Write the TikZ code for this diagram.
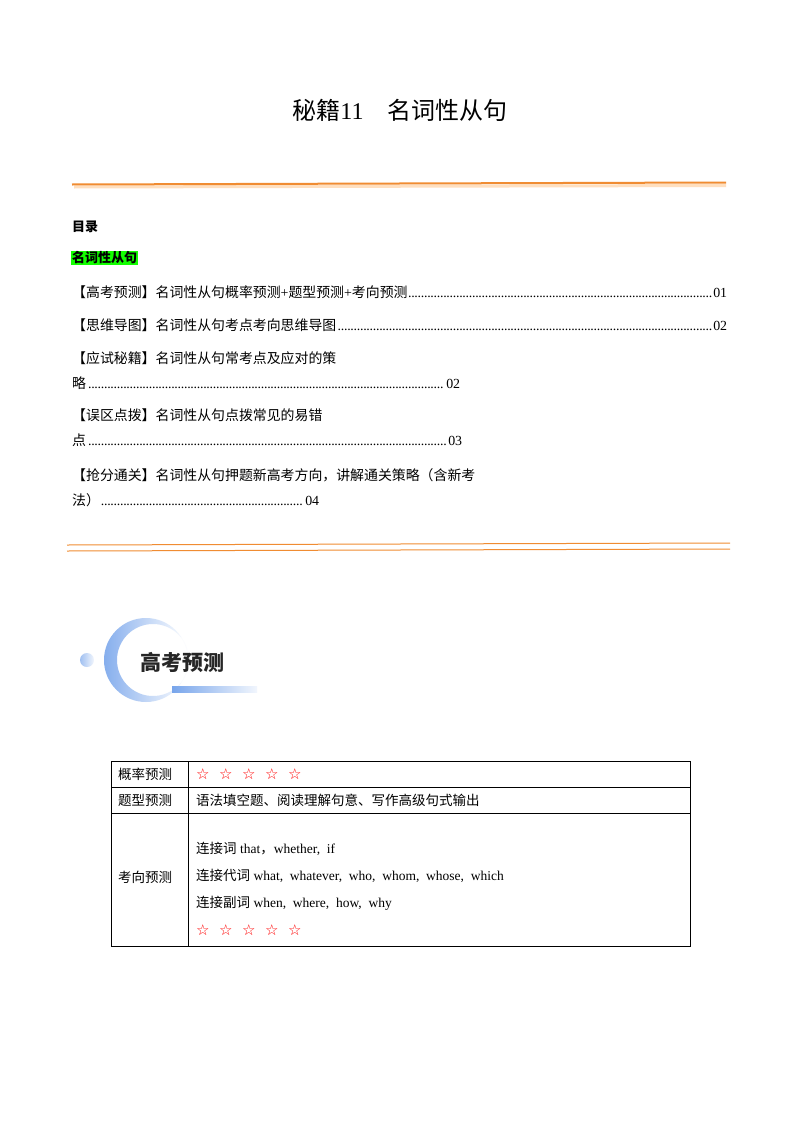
\documentclass[tikz,border=0pt]{standalone}
\usepackage{fontspec}
\setmainfont{Liberation Serif}
\newfontfamily\cjk{Noto Sans CJK SC}
\newfontfamily\sym{DejaVu Sans}
\usetikzlibrary{shadings}
\definecolor{orng}{RGB}{240,140,50}
\definecolor{lblue}{RGB}{120,165,235}
\newcommand{\stars}{{\sym\fontsize{15}{16}\selectfont\color{red}☆\ \ ☆\ \ ☆\ \ ☆\ \ ☆}}
\newcommand{\dotsfill}{\leaders\hbox to 3.2pt{\hss.\hss}\hfill}
\begin{document}
\begin{tikzpicture}[x=1pt,y=-1pt,
  toc/.style={anchor=west,inner sep=0pt,font=\fontsize{13.9}{15}\selectfont},
  cell/.style={anchor=west,inner sep=0pt,font=\fontsize{13.5}{15}\selectfont},
  tl/.style={line width=0.6pt}]
\useasboundingbox (0,0) rectangle (800,1132);
\fill[white] (0,0) rectangle (800,1132);
\node[inner sep=0pt,font=\fontsize{24}{27}\selectfont] (title) at (400,110) {{\cjk 秘籍}11\quad{\cjk 名词性从句}};
% top rule
\fill[orange!25] (74,185.5) -- (726,184) -- (726,187) -- (74,188.5) -- cycle;
\draw[orng,line width=2pt] (72,184.5) -- (726,182.5);
% toc
\node[toc,font=\fontsize{13}{15}\selectfont\cjk\bfseries] (mulu) at (72,227) {目录};
\node[toc,fill=green!90!lime,inner sep=1pt,font=\fontsize{13}{15}\selectfont\cjk\bfseries] (mc) at (71,258) {名词性从句};
\node[toc,text width=655pt] (t1) at (72,292) {{\cjk 【高考预测】名词性从句概率预测}+{\cjk 题型预测}+{\cjk 考向预测}\dotsfill 01};
\node[toc,text width=655pt] (t2) at (72,325) {{\cjk 【思维导图】名词性从句考点考向思维导图}\dotsfill 02};
\node[toc] (t3a) at (72,358) {\cjk 【应试秘籍】名词性从句常考点及应对的策};
\node[toc,text width=388pt] (t3b) at (72,383) {{\cjk 略}\dotsfill 02};
\node[toc] (t4a) at (72,415) {\cjk 【误区点拨】名词性从句点拨常见的易错};
\node[toc,text width=390pt] (t4b) at (72,440) {{\cjk 点}\dotsfill 03};
\node[toc] (t5a) at (72,475) {\cjk 【抢分通关】名词性从句押题新高考方向，讲解通关策略（含新考};
\node[toc,text width=247pt] (t5b) at (72,500) {{\cjk 法）}\dotsfill 04};
% double rule
\draw[orng,line width=1pt] (67,545) -- (730,543);
\draw[orng,line width=1pt] (67,551) -- (730,549);
% emblem
\shade[left color=lblue!70,right color=lblue!10] (87,660) circle (7);
\shade[even odd rule,left color=lblue!90,right color=white] (146,660) circle (42) (153,660) circle (36);
\shade[left color=lblue,right color=lblue!10] (172,686) rectangle (257,692);
\node[inner sep=0pt,font=\fontsize{21}{24}\selectfont\cjk\bfseries,text=black!85] (gk) at (182,662) {高考预测};
% table
\draw[tl] (111,761) rectangle (690,946);
\draw[tl] (188,761) -- (188,946);
\draw[tl] (111,787) -- (690,787);
\draw[tl] (111,813) -- (690,813);
\node[cell] (c1) at (118,774) {\cjk 概率预测};
\node[cell] (c2) at (118,800) {\cjk 题型预测};
\node[cell] (c3) at (118,877) {\cjk 考向预测};
\node[cell] (d1) at (196,774) {\stars};
\node[cell] (d2) at (196,800) {\cjk 语法填空题、阅读理解句意、写作高级句式输出};
\node[cell] (d3) at (196,849) {{\cjk 连接词} that{\cjk ，}whether,\ \ if};
\node[cell] (d4) at (196,876) {{\cjk 连接代词} what,\ \ whatever,\ \ who,\ \ whom,\ \ whose,\ \ which};
\node[cell] (d5) at (196,903) {{\cjk 连接副词} when,\ \ where,\ \ how,\ \ why};
\node[cell] (d6) at (196,930) {\stars};
\end{tikzpicture}
\end{document}
